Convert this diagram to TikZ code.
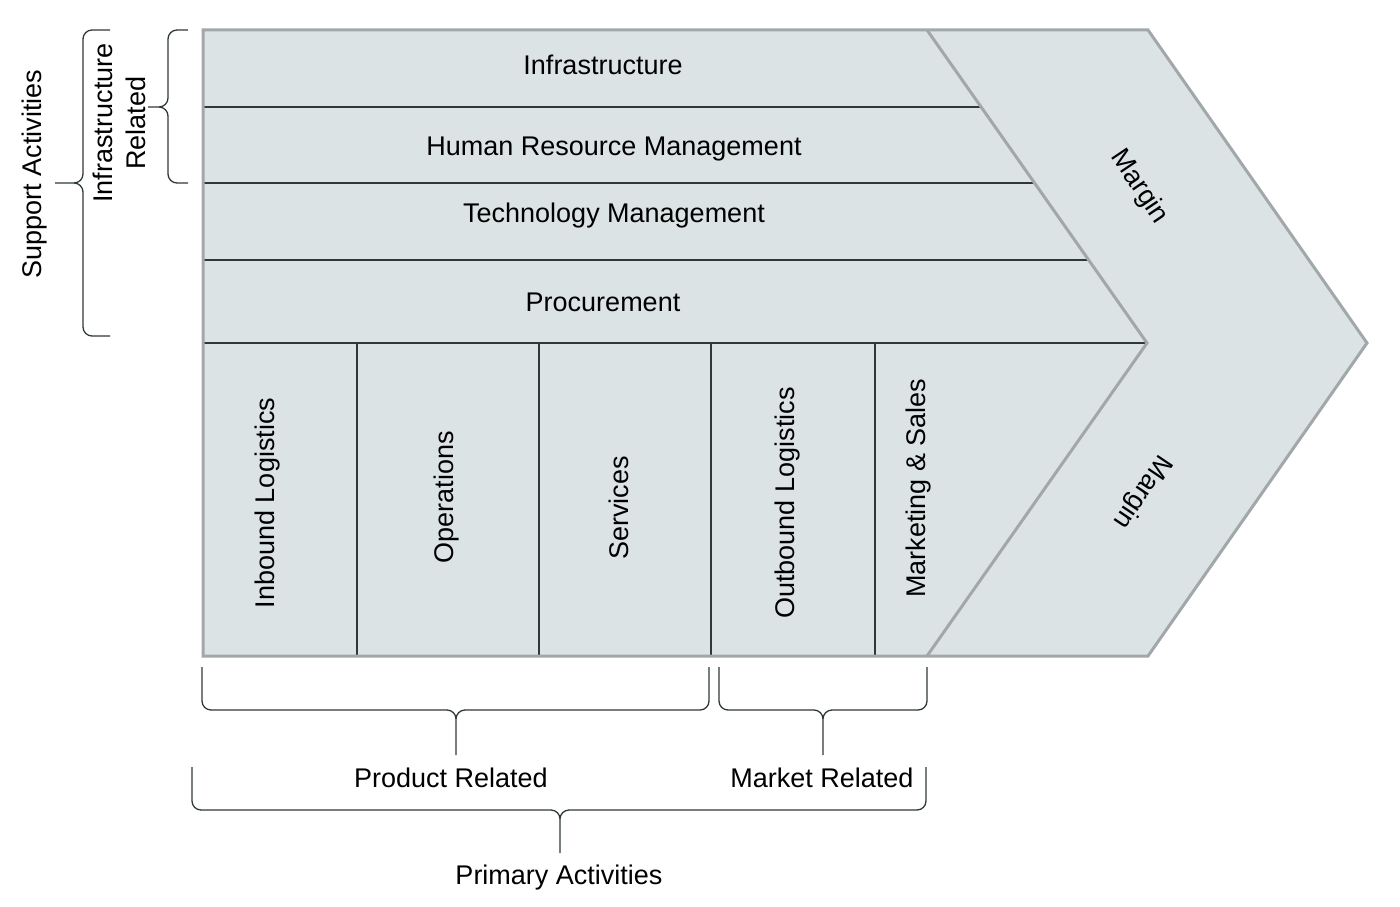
\documentclass[tikz,border=0pt]{standalone}
\usepackage{fontspec}
\setmainfont{Liberation Sans}
\usepackage{tikz}
\usetikzlibrary{calc}

\definecolor{chainfill}{HTML}{DCE3E5}
\definecolor{chainedge}{HTML}{A2A8AA}
\definecolor{rowline}{HTML}{2F3839}

\begin{document}
\begin{tikzpicture}[x=1pt,y=-1pt,
    lbl/.style={font=\fontsize{27}{33}\selectfont,inner sep=0pt},
    vlbl/.style={lbl,rotate=90},
    bracket/.style={draw=rowline,line width=1.3pt,rounded corners=9pt}]
  \useasboundingbox (0,0) rectangle (1400,907); %整幅图的范围
  %价值链的灰色底面
  \fill[chainfill] (203,30) -- (1148,30) -- (1367,343) -- (1148,656) -- (203,656) -- cycle;
  %辅助活动的分隔线
  \draw[rowline,line width=1.3pt] (203,107) -- (981,107);
  \draw[rowline,line width=1.3pt] (203,183) -- (1034,183);
  \draw[rowline,line width=1.3pt] (203,260) -- (1089,260);
  \draw[rowline,line width=1.3pt] (203,343) -- (1147,343);
  %基本活动的分隔线
  \foreach \x in {357,539,711,875}
    \draw[rowline,line width=1.3pt] (\x,343) -- (\x,656);
  %外框和利润区的边线
  \draw[chainedge,line width=3pt] (203,30) -- (1148,30) -- (1367,343) -- (1148,656) -- (203,656) -- cycle;
  \draw[chainedge,line width=3pt] (927,30) -- (1147,343) -- (927,656);

  %各个活动的文字
  \node[lbl] (infra) at (603,65) {Infrastructure};
  \node[lbl] (hrm) at (614,149) {Human Resource Management};
  \node[lbl] (tech) at (614,216) {Technology Management};
  \node[lbl] (proc) at (603,302) {Procurement};
  \node[vlbl] (inbound) at (268,503) {Inbound Logistics};
  \node[vlbl] (ops) at (447,497) {Operations};
  \node[vlbl] (serv) at (619,508) {Services};
  \node[vlbl] (outbound) at (788,503) {Outbound Logistics};
  \node[vlbl] (mksales) at (919,488) {Marketing \& Sales};
  \node[lbl,rotate=-56] (margintop) at (1139,187) {Margin};
  \node[lbl,rotate=236] (marginbot) at (1142,492) {Margin};

  %左边的括号
  \draw[bracket] (188,30) -| (168,107) -- (148,107) (188,183) -| (168,107) -- (148,107);
  \draw[bracket] (110,30) -| (83,183) -- (55,183) (110,336) -| (83,183) -- (55,183);
  \node[vlbl,align=center] (infrarel) at (119,123) {Infrastructure\\Related};
  \node[vlbl] (support) at (35,174) {Support Activities};

  %下面的括号
  \draw[bracket] (202,667) |- (456,710) -- (456,755) (709,667) |- (456,710) -- (456,755);
  \draw[bracket] (719,667) |- (823,710) -- (823,755) (927,667) |- (823,710) -- (823,755);
  \draw[bracket] (192,767) |- (560,810) -- (560,853) (926,767) |- (560,810) -- (560,853);
  \node[lbl] (prodrel) at (451,778) {Product Related};
  \node[lbl] (marketrel) at (822,778) {Market Related};
  \node[lbl] (primary) at (559,878) {Primary Activities};
\end{tikzpicture}
\end{document}
